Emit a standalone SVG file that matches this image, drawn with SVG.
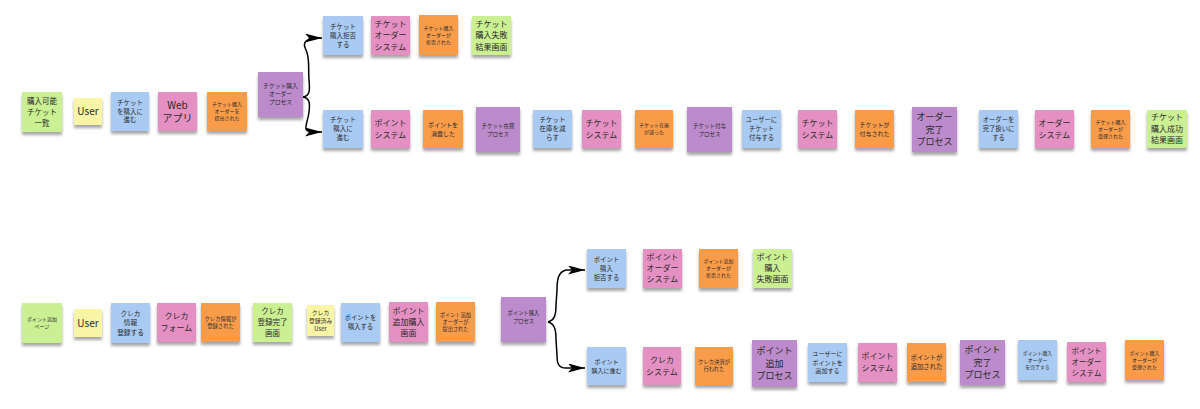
<svg xmlns="http://www.w3.org/2000/svg" width="1200" height="409" viewBox="0 0 1200 409">
<defs>
<filter id="sh" x="-20%" y="-20%" width="140%" height="150%">
<feDropShadow dx="0" dy="3" stdDeviation="1.8" flood-color="#000" flood-opacity="0.35"/>
</filter>
<marker id="ah" markerUnits="userSpaceOnUse" markerWidth="17" markerHeight="9" refX="17" refY="4.5" orient="auto">
<path d="M0,0 L17,4.5 L0,9 L4,4.5 z" fill="#000"/>
</marker>
<style>
rect{filter:url(#sh)}
.g{fill:#cbef93}.y{fill:#f9f5a6}.b{fill:#a9cbf3}.p{fill:#e590c3}.o{fill:#f99c4a}.v{fill:#bb8bcb}
text{font-family:"Noto Sans CJK JP","Noto Sans",sans-serif;fill:#2a2a2a;text-anchor:middle}
.c{fill:none;stroke:#000;stroke-width:1.5;marker-end:url(#ah)}
</style>
</defs>
<rect width="1200" height="409" fill="#fff" style="filter:none"/>

<g id="connectors">
<path class="c" d="M303,97 C310,96 310,90 309,80 C308,66 310,58 306,50 C302,42 305,38 322,38"/>
<path class="c" d="M303,97 C310,98 310,104 309,112 C308,120 305,126 306,129 C307,132 312,132 322,132"/>
<path class="c" d="M548,322 C555,320 556,314 556,305 L557,290 C557,280 558,272 566,270 L585,270"/>
<path class="c" d="M548,322 C555,324 556,330 556,340 L557,355 C557,363 558,368 566,368 L585,368"/>
</g>

<g id="n1"><rect class="g" x="22" y="92" width="40" height="40"/><text x="42" y="103.7" font-size="7.5">購入可能<tspan x="42" dy="11">チケット</tspan><tspan x="42" dy="11">一覧</tspan></text></g>
<g id="n2"><rect class="y" x="74" y="98" width="28" height="27"/><text x="88" y="115.1" font-size="10">User</text></g>
<g id="n3"><rect class="b" x="111" y="92" width="38" height="39"/><text x="130" y="105.3" font-size="6.5">チケット<tspan x="130" dy="8.5">を購入に</tspan><tspan x="130" dy="8.5">進む</tspan></text></g>
<g id="n4"><rect class="p" x="158" y="92" width="39" height="39"/><text x="177.5" y="108.5" font-size="10">Web</text><text x="177.5" y="121.5" font-size="10">アプリ</text></g>
<g id="n5"><rect class="o" x="207" y="92" width="40" height="39"/><text x="227" y="106.3" font-size="5">チケット購入<tspan x="227" dy="7">オーダーを</tspan><tspan x="227" dy="7">提出された</tspan></text></g>
<g id="n6"><rect class="v" x="258" y="72" width="45" height="45"/><text x="280.5" y="88" font-size="5.8">チケット購入<tspan x="280.5" dy="8">オーダー</tspan><tspan x="280.5" dy="8">プロセス</tspan></text></g>

<g id="n7"><rect class="b" x="323" y="16" width="40" height="39"/><text x="343" y="28.8" font-size="6.5">チケット<tspan x="343" dy="9">購入拒否</tspan><tspan x="343" dy="9">する</tspan></text></g>
<g id="n8"><rect class="p" x="371" y="16" width="39" height="39"/><text x="390.5" y="26.9" font-size="8">チケット<tspan x="390.5" dy="11.5">オーダー</tspan><tspan x="390.5" dy="11.5">システム</tspan></text></g>
<g id="n9"><rect class="o" x="419" y="15" width="39" height="40"/><text x="438.5" y="29.8" font-size="5">チケット購入<tspan x="438.5" dy="7">オーダーが</tspan><tspan x="438.5" dy="7">拒否された</tspan></text></g>
<g id="n10"><rect class="g" x="472" y="16" width="39" height="39"/><text x="491.5" y="26.9" font-size="8">チケット<tspan x="491.5" dy="11.5">購入失敗</tspan><tspan x="491.5" dy="11.5">結果画面</tspan></text></g>

<g id="n11"><rect class="b" x="323" y="110" width="40" height="38"/><text x="343" y="122.3" font-size="6.5">チケット<tspan x="343" dy="9">購入に</tspan><tspan x="343" dy="9">進む</tspan></text></g>
<g id="n12"><rect class="p" x="371" y="110" width="39" height="38"/><text x="390.5" y="125.9" font-size="8">ポイント<tspan x="390.5" dy="12">システム</tspan></text></g>
<g id="n13"><rect class="o" x="423" y="110" width="40" height="38"/><text x="443" y="126.7" font-size="6">ポイントを<tspan x="443" dy="9">消費した</tspan></text></g>
<g id="n14"><rect class="v" x="476" y="107" width="44" height="45"/><text x="498" y="127.5" font-size="5.5">チケット在庫<tspan x="498" dy="8">プロセス</tspan></text></g>
<g id="n15"><rect class="b" x="533" y="110" width="39" height="38"/><text x="552.5" y="122.3" font-size="6.5">チケット<tspan x="552.5" dy="9">在庫を減</tspan><tspan x="552.5" dy="9">らす</tspan></text></g>
<g id="n16"><rect class="p" x="582" y="110" width="39" height="38"/><text x="601.5" y="125.9" font-size="8">チケット<tspan x="601.5" dy="12">システム</tspan></text></g>
<g id="n17"><rect class="o" x="635" y="110" width="38" height="38"/><text x="654" y="127.3" font-size="5">チケット在庫<tspan x="654" dy="7">が減った</tspan></text></g>
<g id="n18"><rect class="v" x="687" y="107" width="45" height="45"/><text x="709.5" y="127.5" font-size="5.5">チケット付与<tspan x="709.5" dy="8">プロセス</tspan></text></g>
<g id="n19"><rect class="b" x="742" y="110" width="39" height="38"/><text x="761.5" y="122.3" font-size="6.3">ユーザーに<tspan x="761.5" dy="9">チケット</tspan><tspan x="761.5" dy="9">付与する</tspan></text></g>
<g id="n20"><rect class="p" x="798" y="110" width="39" height="38"/><text x="817.5" y="125.9" font-size="8">チケット<tspan x="817.5" dy="12">システム</tspan></text></g>
<g id="n21"><rect class="o" x="855" y="110" width="39" height="38"/><text x="874.5" y="126.7" font-size="6">チケットが<tspan x="874.5" dy="9">付与された</tspan></text></g>
<g id="n22"><rect class="v" x="912" y="107" width="45" height="45"/><text x="934.5" y="120.2" font-size="9">オーダー<tspan x="934.5" dy="12.5">完了</tspan><tspan x="934.5" dy="12.5">プロセス</tspan></text></g>
<g id="n23"><rect class="b" x="979" y="110" width="39" height="38"/><text x="998.5" y="122.3" font-size="6.3">オーダーを<tspan x="998.5" dy="9">完了扱いに</tspan><tspan x="998.5" dy="9">する</tspan></text></g>
<g id="n24"><rect class="p" x="1035" y="110" width="39" height="38"/><text x="1054.5" y="125.9" font-size="8">オーダー<tspan x="1054.5" dy="12">システム</tspan></text></g>
<g id="n25"><rect class="o" x="1091" y="110" width="39" height="38"/><text x="1110.5" y="123.8" font-size="5">チケット購入<tspan x="1110.5" dy="7">オーダーが</tspan><tspan x="1110.5" dy="7">受理された</tspan></text></g>
<g id="n26"><rect class="g" x="1147" y="110" width="40" height="38"/><text x="1167" y="120.4" font-size="8">チケット<tspan x="1167" dy="11.5">購入成功</tspan><tspan x="1167" dy="11.5">結果画面</tspan></text></g>

<g id="n27"><rect class="g" x="22" y="303" width="40" height="40"/><text x="42" y="321.3" font-size="5">ポイント追加<tspan x="42" dy="7">ページ</tspan></text></g>
<g id="n28"><rect class="y" x="74" y="309" width="28" height="28"/><text x="88" y="326.6" font-size="10">User</text></g>
<g id="n29"><rect class="b" x="111" y="303" width="39" height="40"/><text x="130.5" y="315.9" font-size="6.7">クレカ<tspan x="130.5" dy="9.5">情報</tspan><tspan x="130.5" dy="9.5">登録する</tspan></text></g>
<g id="n30"><rect class="p" x="157" y="303" width="39" height="39"/><text x="176.5" y="319.4" font-size="8">クレカ<tspan x="176.5" dy="12">フォーム</tspan></text></g>
<g id="n31"><rect class="o" x="201" y="303" width="39" height="39"/><text x="220.5" y="320.9" font-size="5.3">クレカ情報が<tspan x="220.5" dy="7">登録された</tspan></text></g>
<g id="n32"><rect class="g" x="253" y="303" width="39" height="39"/><text x="272.5" y="314.2" font-size="7.5">クレカ<tspan x="272.5" dy="11">登録完了</tspan><tspan x="272.5" dy="11">画面</tspan></text></g>
<g id="n33"><rect class="y" x="307" y="305" width="27" height="31"/><text x="320.5" y="314.6" font-size="5.8">クレカ<tspan x="320.5" dy="8">登録済み</tspan><tspan x="320.5" dy="8">User</tspan></text></g>
<g id="n34"><rect class="b" x="341" y="303" width="39" height="39"/><text x="360.5" y="320.3" font-size="6.3">ポイントを<tspan x="360.5" dy="9">購入する</tspan></text></g>
<g id="n35"><rect class="p" x="389" y="302" width="39" height="40"/><text x="408.5" y="313.9" font-size="8">ポイント<tspan x="408.5" dy="11">追加購入</tspan><tspan x="408.5" dy="11">画面</tspan></text></g>
<g id="n36"><rect class="o" x="436" y="302" width="39" height="40"/><text x="455.5" y="316.9" font-size="5.2">ポイント追加<tspan x="455.5" dy="7">オーダーが</tspan><tspan x="455.5" dy="7">提出された</tspan></text></g>
<g id="n37"><rect class="v" x="501" y="297" width="45" height="45"/><text x="523.5" y="315.4" font-size="5.3">ポイント購入<tspan x="523.5" dy="8">プロセス</tspan></text></g>

<g id="n38"><rect class="b" x="587" y="249" width="39" height="39"/><text x="606.5" y="261.8" font-size="6.4">ポイント<tspan x="606.5" dy="9">購入</tspan><tspan x="606.5" dy="9">拒否する</tspan></text></g>
<g id="n39"><rect class="p" x="643" y="249" width="39" height="39"/><text x="662.5" y="260.4" font-size="8">ポイント<tspan x="662.5" dy="11">オーダー</tspan><tspan x="662.5" dy="11">システム</tspan></text></g>
<g id="n40"><rect class="o" x="699" y="249" width="39" height="39"/><text x="718.5" y="263.3" font-size="5">ポイント追加<tspan x="718.5" dy="7">オーダーが</tspan><tspan x="718.5" dy="7">拒否された</tspan></text></g>
<g id="n41"><rect class="g" x="753" y="249" width="39" height="39"/><text x="772.5" y="260.4" font-size="8">ポイント<tspan x="772.5" dy="11">購入</tspan><tspan x="772.5" dy="11">失敗画面</tspan></text></g>

<g id="n42"><rect class="b" x="587" y="347" width="39" height="38"/><text x="606.5" y="363.7" font-size="6">ポイント<tspan x="606.5" dy="9">購入に進む</tspan></text></g>
<g id="n43"><rect class="p" x="643" y="347" width="38" height="38"/><text x="662" y="362.9" font-size="8">クレカ<tspan x="662" dy="12">システム</tspan></text></g>
<g id="n44"><rect class="o" x="695" y="347" width="38" height="38"/><text x="714" y="364.4" font-size="5.3">クレカ決済が<tspan x="714" dy="7">行われた</tspan></text></g>
<g id="n45"><rect class="v" x="752" y="340" width="45" height="47"/><text x="774.5" y="354.2" font-size="9">ポイント<tspan x="774.5" dy="12.5">追加</tspan><tspan x="774.5" dy="12.5">プロセス</tspan></text></g>
<g id="n46"><rect class="b" x="808" y="343" width="39" height="39"/><text x="827.5" y="356.2" font-size="6.1">ユーザーに<tspan x="827.5" dy="8.5">ポイントを</tspan><tspan x="827.5" dy="8.5">追加する</tspan></text></g>
<g id="n47"><rect class="p" x="858" y="343" width="39" height="39"/><text x="877.5" y="359.4" font-size="8">ポイント<tspan x="877.5" dy="12">システム</tspan></text></g>
<g id="n48"><rect class="o" x="907" y="343" width="39" height="39"/><text x="926.5" y="360.3" font-size="6.3">ポイントが<tspan x="926.5" dy="9">追加された</tspan></text></g>
<g id="n49"><rect class="v" x="960" y="340" width="45" height="45"/><text x="982.5" y="353.2" font-size="9">ポイント<tspan x="982.5" dy="12.5">完了</tspan><tspan x="982.5" dy="12.5">プロセス</tspan></text></g>
<g id="n50"><rect class="b" x="1018" y="340" width="39" height="40"/><text x="1037.5" y="354.8" font-size="4.9">ポイント購入<tspan x="1037.5" dy="7">オーダー</tspan><tspan x="1037.5" dy="7">を完了する</tspan></text></g>
<g id="n51"><rect class="p" x="1067" y="342" width="39" height="40"/><text x="1086.5" y="353.7" font-size="7.5">ポイント<tspan x="1086.5" dy="11">オーダー</tspan><tspan x="1086.5" dy="11">システム</tspan></text></g>
<g id="n52"><rect class="o" x="1125" y="340" width="39" height="40"/><text x="1144.5" y="354.8" font-size="5">ポイント購入<tspan x="1144.5" dy="7">オーダーが</tspan><tspan x="1144.5" dy="7">受理された</tspan></text></g>
</svg>
